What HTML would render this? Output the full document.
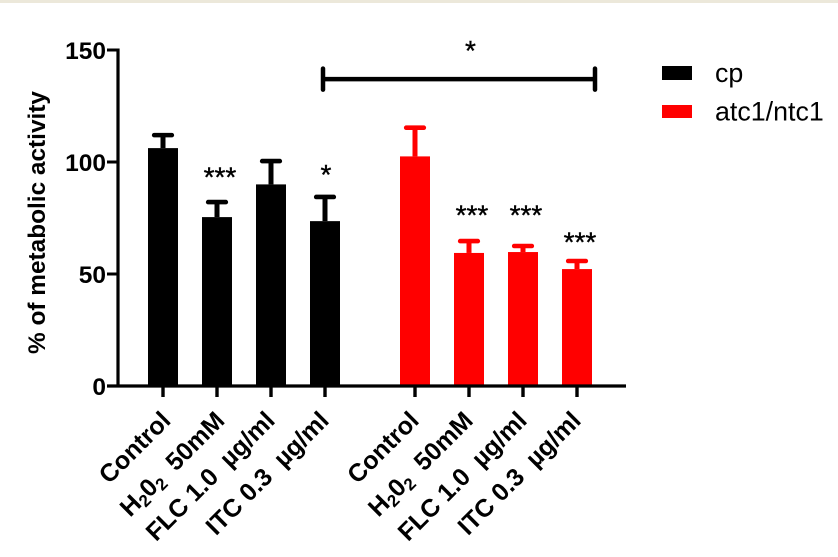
<!DOCTYPE html>
<html>
<head>
<meta charset="utf-8">
<style>
html,body{margin:0;padding:0;background:#fff;width:838px;height:557px;overflow:hidden}
#top-strip{position:absolute;left:0;top:0;width:838px;height:3px;background:#ece8da}
svg{position:absolute;left:0;top:0;filter:blur(0.35px)}
text{font-family:"Liberation Sans",sans-serif;fill:#000;white-space:pre}
</style>
</head>
<body>
<div id="top-strip"></div>
<svg id="chart" width="838" height="557" viewBox="0 0 838 557">
  <g id="bars"></g>
  <g id="axes"></g>
  <g id="annotations"></g>
  <text x="45" y="222.5" transform="rotate(-90 45 222.5)" text-anchor="middle" font-size="24.4" font-weight="bold">% of metabolic activity</text>
  <g>
    <rect x="662" y="66" width="30" height="14" fill="#000"></rect>
    <text x="715" y="82" font-size="26.8">cp</text>
    <rect x="662" y="105" width="30" height="13" fill="#f00"></rect>
    <text x="715" y="120.5" font-size="26.8">atc1/ntc1</text>
  </g>
</svg>
<script>
const categories = ['Control', 'H_20_2  50mM', 'FLC 1.0  µg/ml', 'ITC 0.3  µg/ml'];
const cpValues = [106.2, 75.4, 90, 73.6];
const cpErrors = [5.8, 6.7, 10.4, 10.8];
const atcValues = [102.5, 59.4, 59.8, 52.2];
const atcErrors = [12.8, 5.3, 2.7, 3.6];
const cpSignificance = ['', '***', '', '*'];
const atcSignificance = ['', '***', '***', '***'];
const cpSignificanceLevels = [0, 94.5, 0, 95.5];
const atcSignificanceLevels = [0, 77.5, 77.5, 65.5];
const yTicks = [0, 50, 100, 150];
const bracketLevel = 137;
const bracketStar = '*';
const bracketStarLevel = 150;

const svgNS = 'http://www.w3.org/2000/svg';
const barsG = document.getElementById('bars');
const axesG = document.getElementById('axes');
const annG = document.getElementById('annotations');

function yScale(v) { return 386 - v * 2.24; }
function xScale(group, i) { return 163 + 54 * i + group * 252; }

function make(parent, tag, attrs) {
  const el = document.createElementNS(svgNS, tag);
  for (const k in attrs) el.setAttribute(k, attrs[k]);
  parent.appendChild(el);
  return el;
}

function drawSeries(group, values, errors, color, key) {
  values.forEach(function (v, i) {
    const cx = xScale(group, i);
    const bar = make(barsG, 'rect', { x: cx - 15, y: yScale(v), width: 30, height: yScale(0) - yScale(v), fill: color });
    
    
    const topY = yScale(v + errors[i]);
    const stem = make(barsG, 'line', { x1: cx, x2: cx, y1: yScale(v), y2: topY, stroke: color, 'stroke-width': 5 });
    
    
    const cap = make(barsG, 'line', { x1: cx - 8.8, x2: cx + 8.8, y1: topY, y2: topY, stroke: color, 'stroke-width': 4.6, 'stroke-linecap': 'round' });
    
    
  });
}
drawSeries(0, cpValues, cpErrors, '#000', 'cp');
drawSeries(1, atcValues, atcErrors, '#f00', 'atc1-ntc1');

const yAxisLine = make(axesG, 'line', { x1: 118, x2: 118, y1: yScale(150) - 1.5, y2: yScale(0) + 1.5, stroke: '#000', 'stroke-width': 3.2 });


const xAxisLine = make(axesG, 'line', { x1: 107, x2: 626, y1: yScale(0), y2: yScale(0), stroke: '#000', 'stroke-width': 3.2 });



yTicks.forEach(function (t) {
  const tick = make(axesG, 'line', { x1: 107, x2: 118, y1: yScale(t), y2: yScale(t), stroke: '#000', 'stroke-width': 3 });
  
  
  const label = make(axesG, 'text', { x: 106, y: yScale(t) + 9, 'text-anchor': 'end', 'font-size': 24.5, 'font-weight': 'bold' });
  
  
  label.textContent = t;
});

function drawCategoryLabel(group, i, text) {
  const cx = xScale(group, i);
  const tick = make(axesG, 'line', { x1: cx, x2: cx, y1: yScale(0), y2: 397, stroke: '#000', 'stroke-width': 3.4 });
  
  
  const ax = cx + (group === 0 && i < 2 ? 9 : 5.3);
  const ay = 422;
  const label = make(axesG, 'text', { x: ax, y: ay, 'text-anchor': 'end', 'font-size': 25, 'font-weight': 'bold', transform: 'rotate(-45 ' + ax + ' ' + ay + ')' });
  
  
  text.split(/(_\d)/).forEach(function (part) {
    if (!part) return;
    const span = make(label, 'tspan', {});
    if (part[0] === '_') {
      span.textContent = part.slice(1);
      span.setAttribute('font-size', '17');
      span.setAttribute('dy', '4');
    } else {
      span.textContent = part;
      span.setAttribute('dy', label.childNodes.length > 1 && label.childNodes[label.childNodes.length - 2].getAttribute('dy') === '4' ? '-4' : '0');
    }
  });
}
[0, 1].forEach(function (g) {
  categories.forEach(function (c, i) { drawCategoryLabel(g, i, c); });
});

function drawStars(group, marks, levels) {
  marks.forEach(function (m, i) {
    if (!m) return;
    const star = make(annG, 'text', { x: xScale(group, i) + (m.length > 1 ? 3 : 1), y: yScale(levels[i]) + 12, 'text-anchor': 'middle', 'font-size': 28, stroke: '#000', 'stroke-width': 0.4 });
    
    
    star.textContent = m;
  });
}
drawStars(0, cpSignificance, cpSignificanceLevels);
drawStars(1, atcSignificance, atcSignificanceLevels);

const bx1 = xScale(0, 3) - 2;
const bx2 = xScale(1, 3) + 18;
const by = yScale(bracketLevel);
const bar = make(annG, 'line', { x1: bx1, x2: bx2, y1: by, y2: by, stroke: '#000', 'stroke-width': 4.5 });


const capL = make(annG, 'line', { x1: bx1, x2: bx1, y1: by - 10.5, y2: by + 10.5, stroke: '#000', 'stroke-width': 4.5, 'stroke-linecap': 'round' });


const capR = make(annG, 'line', { x1: bx2, x2: bx2, y1: by - 10.5, y2: by + 10.5, stroke: '#000', 'stroke-width': 4.5, 'stroke-linecap': 'round' });


const bStar = make(annG, 'text', { x: 470.5, y: yScale(bracketStarLevel) + 10, 'text-anchor': 'middle', 'font-size': 28, stroke: '#000', 'stroke-width': 0.4 });


bStar.textContent = bracketStar;
</script>
</body>
</html>
